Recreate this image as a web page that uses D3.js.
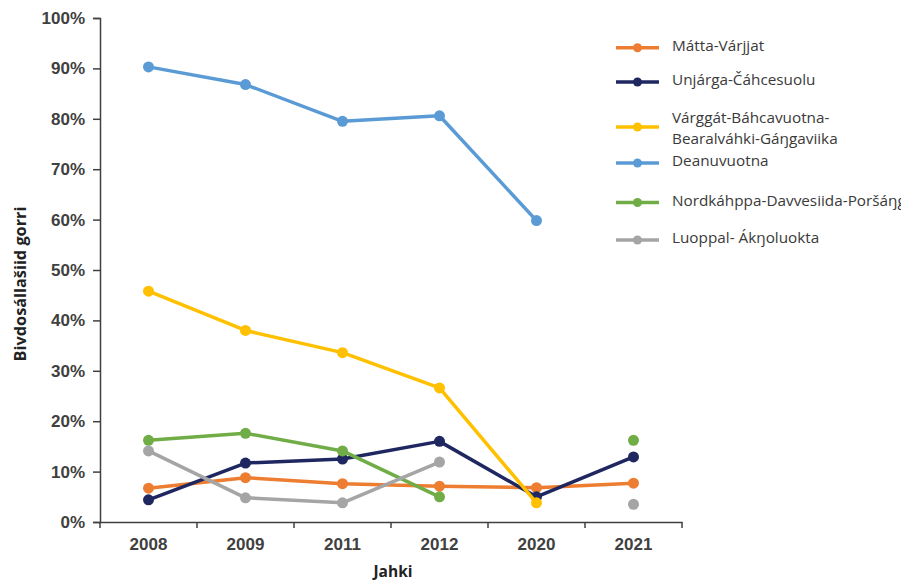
<!DOCTYPE html>
<html><head><meta charset="utf-8">
<script src="https://cdn.jsdelivr.net/npm/d3@7"></script>
<style>html,body{margin:0;padding:0;background:#fff;overflow:hidden}</style>
</head><body>
<svg id="chart" width="901" height="582"></svg>
<script>
const categories = ["2008","2009","2011","2012","2020","2021"];
const yTicks = [0,0.1,0.2,0.3,0.4,0.5,0.6,0.7,0.8,0.9,1.0];
const seriesNames = ["Mátta-Várjjat","Unjárga-Čáhcesuolu","Várggát-Báhcavuotna-Bearalváhki-Gáŋgaviika","Deanuvuotna","Nordkáhppa-Davvesiida-Poršáŋgu","Luoppal- Ákŋoluokta"];
const legendLines = [["Mátta-Várjjat"],["Unjárga-Čáhcesuolu"],["Várggát-Báhcavuotna-","Bearalváhki-Gáŋgaviika"],["Deanuvuotna"],["Nordkáhppa-Davvesiida-Poršáŋgu"],["Luoppal- Ákŋoluokta"]];
const colors = ["#ED7D31","#1F2760","#FFC000","#5B9BD5","#70AD47","#A5A5A5"];
const mattaVarjjat = [0.067,0.088,0.076,0.071,0.068,0.077];
const unjarga = [0.044,0.117,0.125,0.160,0.050,0.129];
const varggat = [0.458,0.380,0.336,0.266,0.038,null];
const deanuvuotna = [0.903,0.868,0.795,0.806,0.598,null];
const nordkahppa = [0.162,0.176,0.141,0.050,null,0.162];
const luoppal = [0.141,0.048,0.038,0.119,null,0.035];
const seriesValues = [mattaVarjjat,unjarga,varggat,deanuvuotna,nordkahppa,luoppal];

const svg = d3.select("#chart");
const m = {left:100, top:18, right:682, bottom:522};
const x = d3.scaleBand().domain(categories).range([m.left, m.right]);
const y = d3.scaleLinear().domain([0,1]).range([m.bottom, m.top]);
const axisColor = "#404040";

// Y axis
const yAxis = svg.append("g").attr("transform",`translate(${m.left},0)`)
  .call(d3.axisLeft(y).tickValues(yTicks).tickFormat(d3.format(".0%")).tickSize(7).tickPadding(8));
yAxis.select(".domain").attr("stroke",axisColor).attr("stroke-width",1.5);
yAxis.selectAll(".tick line").attr("stroke",axisColor).attr("stroke-width",1.5);
yAxis.selectAll(".tick text").attr("fill","#404040").style("font-family","'Liberation Sans', Arial, sans-serif").style("font-size","17px").style("font-weight","bold");

// X axis
const xAxis = svg.append("g").attr("transform",`translate(0,${m.bottom})`)
  .call(d3.axisBottom(x).tickSizeOuter(0).tickSize(0).tickPadding(16));
xAxis.select(".domain").attr("stroke",axisColor).attr("stroke-width",1.5);
xAxis.selectAll(".tick text").attr("fill","#404040").style("font-family","'Liberation Sans', Arial, sans-serif").style("font-size","17px").style("font-weight","bold");
// tick marks between categories
const boundaries = categories.map(c => x(c)).concat([m.right]);
svg.append("g").selectAll("line").data(boundaries).join("line")
  .attr("x1",d=>d).attr("x2",d=>d).attr("y1",m.bottom).attr("y2",m.bottom+6)
  .attr("stroke",axisColor).attr("stroke-width",1.5);

// axis titles
svg.append("text").attr("transform",`translate(26,284) rotate(-90)`)
  .attr("text-anchor","middle").attr("fill","#222")
  .style("font-family","'Open Sans', sans-serif").style("font-size","16.3px").style("font-weight","bold")
  .text("Bivdosállašiid gorri");
svg.append("text").attr("x",(m.left+m.right)/2+2).attr("y",577)
  .attr("text-anchor","middle").attr("fill","#222")
  .style("font-family","'Open Sans', sans-serif").style("font-size","15.5px").style("font-weight","bold")
  .text("Jahki");

// series
const line = d3.line().defined(d=>d.v!==null).x(d=>x(d.c)+x.bandwidth()/2).y(d=>y(d.v));
seriesValues.forEach((vals,i) => {
  const data = categories.map((c,j)=>({c, v: vals[j]}));
  const g = svg.append("g");
  g.append("path").datum(data).attr("d",line).attr("fill","none")
    .attr("stroke",colors[i]).attr("stroke-width",3.5).attr("stroke-linejoin","round");
  g.selectAll("circle").data(data.filter(d=>d.v!==null)).join("circle")
    .attr("cx",d=>x(d.c)+x.bandwidth()/2).attr("cy",d=>y(d.v)).attr("r",5.5).attr("fill",colors[i]);
});

// legend
const legY = [47.7, 82, 127, 163, 202.5, 240];
const leg = svg.append("g");
legendLines.forEach((lines,i) => {
  const g = leg.append("g").attr("transform",`translate(0,${legY[i]})`);
  g.append("line").attr("x1",616).attr("x2",659).attr("y1",0).attr("y2",0).attr("stroke",colors[i]).attr("stroke-width",3.5);
  g.append("circle").attr("cx",637.5).attr("cy",0).attr("r",4.5).attr("fill",colors[i]);
  const t = g.append("text").attr("x",672).attr("fill","#3a3a3a")
    .style("font-family","'Open Sans', sans-serif").style("font-size","15.3px");
  lines.forEach((s,k) => {
    t.append("tspan").attr("x",672).attr("y", (lines.length===1 ? 3 : -4.5 + k*21.5)).text(s);
  });
});
</script>
</body></html>
